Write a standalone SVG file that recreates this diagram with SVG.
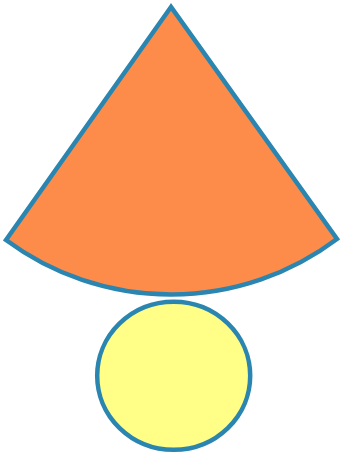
<svg xmlns="http://www.w3.org/2000/svg" width="340" height="458" viewBox="0 0 340 458">
<style>
.s{stroke:#2a86b0;stroke-width:4.5;stroke-linejoin:miter}
</style>
<rect width="340" height="458" fill="#ffffff"/>
<g id="sector">
<path class="s" d="M171,7 L6,240 A276.5,276.5 0 0 0 337,239 Z" fill="#fd8c4a"/>
</g>
<g id="circle">
<ellipse class="s" cx="173.7" cy="375.8" rx="76.5" ry="74" fill="#ffff88"/>
</g>
</svg>
